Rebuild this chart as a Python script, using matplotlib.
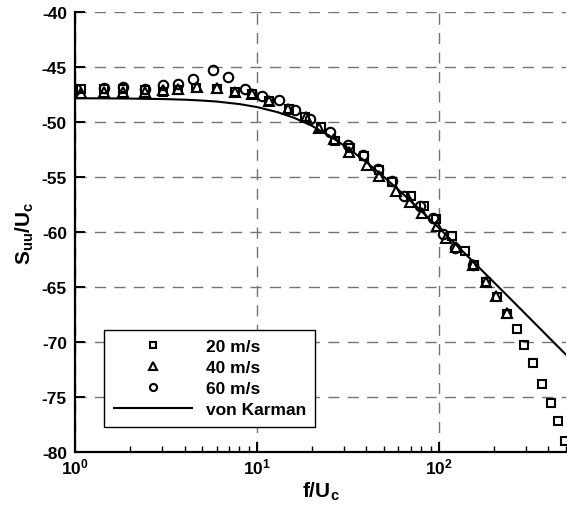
import numpy as np
import matplotlib
matplotlib.use('Agg')
import matplotlib.pyplot as plt
from matplotlib.ticker import FixedLocator, LogLocator, FuncFormatter, NullFormatter

plt.rcParams['font.family'] = ['Liberation Sans', 'DejaVu Sans']
plt.rcParams['font.weight'] = 'bold'
plt.rcParams['mathtext.fontset'] = 'custom'
plt.rcParams['mathtext.rm'] = 'Liberation Sans:bold'
plt.rcParams['mathtext.it'] = 'Liberation Sans:bold'
plt.rcParams['mathtext.bf'] = 'Liberation Sans:bold'
plt.rcParams['mathtext.default'] = 'bf'

# 20 m/s
f_20 = [1.07, 1.43, 1.84, 2.42, 3.05, 3.69, 4.6, 6.0, 7.6, 9.4, 11.7, 15.0, 18.4,
        22.5, 26.8, 32.5, 38.7, 46.8, 55.5, 70.0, 82.8, 97.0, 118, 139, 156, 182,
        208, 238, 270, 295, 328, 370, 412, 450, 494]
s_20 = [-47.0, -47.0, -47.0, -47.1, -47.2, -47.1, -46.9, -47.0, -47.2, -47.4, -48.1,
        -48.8, -49.5, -50.4, -51.7, -52.3, -53.1, -54.3, -55.4, -56.7, -57.6, -58.8,
        -60.3, -61.7, -63.0, -64.5, -65.9, -67.4, -68.8, -70.2, -71.9, -73.8, -75.5,
        -77.1, -79.0]

# 40 m/s
f_40 = [1.08, 1.43, 1.84, 2.42, 3.05, 3.69, 4.65, 6.0, 7.6, 9.34, 11.7, 14.8, 18.6,
        22.0, 26.5, 32.0, 40.1, 47.0, 57.9, 69.0, 80.5, 97.8, 110, 124, 154, 182,
        206, 238]
s_40 = [-47.3, -47.2, -47.2, -47.2, -47.1, -47.0, -46.8, -46.9, -47.2, -47.4, -48.1,
        -48.8, -49.5, -50.5, -51.5, -52.7, -53.9, -54.9, -56.2, -57.2, -58.2, -59.4,
        -60.5, -61.3, -63.0, -64.5, -65.8, -67.3]

# 60 m/s
f_60 = [1.01, 1.43, 1.84, 2.42, 3.05, 3.69, 4.42, 5.70, 6.95, 8.58, 10.7, 13.2, 16.2,
        19.5, 25.2, 31.8, 38.5, 46.4, 55.0, 64.3, 78.7, 92.4, 105, 123, 154]
s_60 = [-47.0, -46.9, -46.8, -47.0, -46.6, -46.5, -46.1, -45.2, -45.9, -47.0, -47.6,
        -48.0, -48.9, -49.7, -50.9, -52.1, -53.0, -54.2, -55.3, -56.7, -57.6, -58.7,
        -60.1, -61.4, -63.0]

# von Karman spectrum
f_vk = [1, 1.5, 2, 3, 4, 5, 6, 8, 10, 13, 16, 20, 25, 32, 40, 50, 63, 80, 100, 130,
        160, 200, 250, 320, 400, 500]
s_vk = [-47.81, -47.82, -47.84, -47.88, -47.94, -48.02, -48.11, -48.34, -48.61, -49.08,
        -49.59, -50.31, -51.21, -52.40, -53.63, -54.97, -56.45, -58.05, -59.59, -61.43,
        -62.91, -64.50, -66.10, -67.88, -69.49, -71.10]

fig = plt.figure(figsize=(5.67, 5.10), dpi=100)
ax = fig.add_axes([0.1328, 0.1108, 0.8652, 0.8631])

mk = dict(ls='none', mfc='none', mec='black', mew=1.5)
ax.plot(f_20, s_20, marker='s', ms=6.2, label='20 m/s', **mk)
ax.plot(f_40, s_40, marker='^', ms=7.0, label='40 m/s', **mk)
ax.plot(f_60, s_60, marker='o', ms=6.8, label='60 m/s', **mk)
ax.plot(f_vk, s_vk, c='black', lw=1.5, label='von Karman')

ax.set_xscale('log')
ax.set_xlim(1, 500)
ax.set_ylim(-80, -40)
ax.yaxis.set_major_locator(FixedLocator(np.arange(-80, -39, 5)))
ax.xaxis.set_major_locator(LogLocator(base=10, numticks=10))
ax.xaxis.set_minor_locator(LogLocator(base=10, subs=np.arange(2, 10), numticks=10))
ax.xaxis.set_minor_formatter(NullFormatter())
ax.xaxis.set_major_formatter(FuncFormatter(lambda v, p: r'$\mathbf{10^{%d}}$' % round(np.log10(v))))
ax.yaxis.set_major_formatter(FuncFormatter(lambda v, p: '%d' % v))

ax.grid(True, which='major', color='#747474', lw=1.0, dashes=(8, 6))
ax.set_axisbelow(True)

for side in ('top', 'right'):
    ax.spines[side].set_visible(False)
for side in ('left', 'bottom'):
    ax.spines[side].set_linewidth(1.6)

ax.tick_params(which='major', direction='in', length=7, width=1.4, labelsize=12.5)
ax.tick_params(which='minor', direction='in', length=4, width=1.0)
ax.tick_params(axis='y', pad=6)
ax.tick_params(axis='x', pad=3)

ax.set_xlabel('f/U$_c$', fontsize=15, fontweight='bold', labelpad=2)
ax.set_ylabel('S$_{uu}$/U$_c$', fontsize=15, fontweight='bold', labelpad=4)

leg = ax.legend(loc='upper left', bbox_to_anchor=(0.0585, 0.279), fontsize=12.5,
                frameon=True, fancybox=False, edgecolor='black', framealpha=1,
                handlelength=4.5, handletextpad=0.8, labelspacing=0.33,
                borderpad=0.55, markerscale=0.75, borderaxespad=0)
leg.get_frame().set_linewidth(1.0)

fig.savefig('out.png', dpi=100)
plt.close(fig)
